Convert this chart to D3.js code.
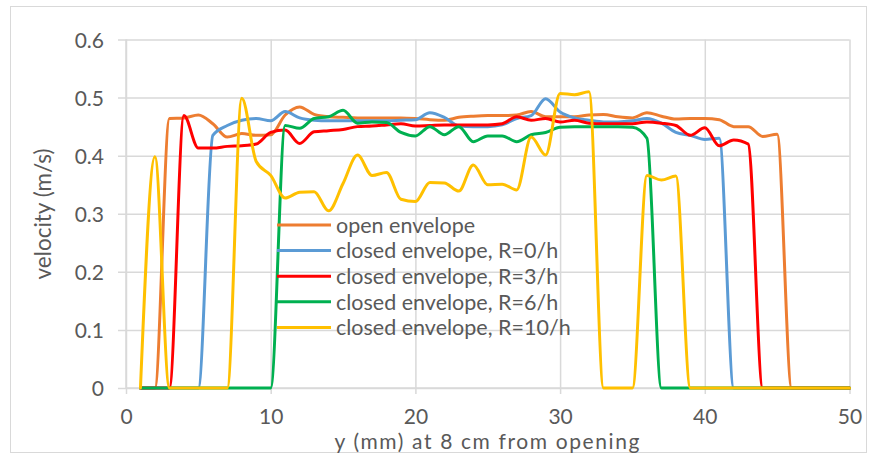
<!DOCTYPE html>
<html>
<head>
<meta charset="utf-8">
<script src="https://cdn.jsdelivr.net/npm/d3@7"></script>
<style>
  html, body { margin: 0; padding: 0; background: #fff; }
  svg text { font-family: Lato, "Open Sans", sans-serif; fill: #595959; }
</style>
</head>
<body>
<svg id="chart" width="872" height="460"></svg>
<script>
// Position across the opening (mm)
const positions = [1,2,3,4,5,6,7,8,9,10,11,12,13,14,15,16,17,18,19,20,21,22,23,24,25,
                   26,27,28,29,30,31,32,33,34,35,36,37,38,39,40,41,42,43,44,45,46,47,48,49,50];

// Velocity (m/s) for each configuration
const openEnvelope = [0,0,0.464,0.465,0.470,0.455,0.432,0.438,0.435,0.436,0.470,0.484,0.471,0.467,0.466,
  0.465,0.465,0.465,0.465,0.464,0.462,0.461,0.466,0.468,0.469,0.469,0.470,0.476,0.467,0.467,
  0.467,0.470,0.471,0.467,0.465,0.474,0.468,0.463,0.464,0.464,0.462,0.450,0.450,0.433,0.437,
  0,0,0,0,0];
const closedR0 = [0,0,0,0,0,0.435,0.452,0.461,0.464,0.460,0.476,0.465,0.461,0.460,0.460,
  0.460,0.460,0.460,0.461,0.462,0.474,0.466,0.451,0.450,0.450,0.453,0.464,0.469,0.498,0.475,
  0.465,0.461,0.458,0.458,0.460,0.464,0.456,0.440,0.435,0.428,0.430,0,0,0,0,
  0,0,0,0,0];
const closedR3 = [0,0,0,0.469,0.413,0.413,0.416,0.417,0.420,0.440,0.444,0.421,0.441,0.443,0.445,
  0.450,0.451,0.453,0.455,0.451,0.452,0.453,0.453,0.453,0.453,0.455,0.467,0.461,0.464,0.458,
  0.461,0.456,0.455,0.455,0.455,0.458,0.456,0.452,0.435,0.448,0.417,0.427,0.420,0,0,
  0,0,0,0,0];
const closedR6 = [0,0,0,0,0,0,0,0,0,0,0.452,0.447,0.464,0.467,0.478,
  0.456,0.458,0.457,0.440,0.434,0.450,0.436,0.450,0.424,0.434,0.434,0.424,0.436,0.440,0.449,
  0.450,0.450,0.450,0.450,0.449,0.430,0,0,0,0,0,0,0,0,0,
  0,0,0,0,0];
const closedR10 = [0,0.398,0,0,0,0,0,0.499,0.390,0.366,0.327,0.337,0.338,0.305,0.352,
  0.401,0.366,0.371,0.325,0.321,0.354,0.353,0.339,0.384,0.350,0.351,0.341,0.432,0.401,0.507,
  0.505,0.510,0,0,0,0.366,0.358,0.365,0,0,0,0,0,0,0,
  0,0,0,0,0];

const seriesNames = ["open envelope", "closed envelope, R=0/h", "closed envelope, R=3/h",
                     "closed envelope, R=6/h", "closed envelope, R=10/h"];
const seriesColors = ["#ED7D31", "#5B9BD5", "#FF0000", "#00B050", "#FFC000"];
const seriesValues = [openEnvelope, closedR0, closedR3, closedR6, closedR10];

const xTicks = [0, 10, 20, 30, 40, 50];
const yTicks = [0, 0.1, 0.2, 0.3, 0.4, 0.5, 0.6];
const xTitle = "y (mm) at 8 cm from opening";
const yTitle = "velocity (m/s)";

const svg = d3.select("#chart");
const grid = "#d9d9d9";

// outer chart frame
svg.append("rect")
  .attr("x", 10.5).attr("y", 6.5).attr("width", 856).attr("height", 446)
  .attr("fill", "#fff").attr("stroke", grid).attr("stroke-width", 1);

const plot = { left: 126, right: 849.5, top: 39.5, bottom: 388 };
const x = d3.scaleLinear().domain([0, 50]).range([plot.left, plot.right]);
const y = d3.scaleLinear().domain([0, 0.6]).range([plot.bottom, plot.top]);

// horizontal gridlines with short outside ticks
const yAxis = d3.axisLeft(y).tickValues(yTicks)
  .tickSize(-(plot.right - plot.left)).tickPadding(0)
  .tickFormat(d => d === 0 ? "0" : d3.format(".1f")(d));
const gy = svg.append("g").attr("transform", `translate(${plot.left},0)`).call(yAxis);
gy.select(".domain").remove();
gy.selectAll(".tick line").attr("stroke", grid).attr("stroke-width", 1.5).attr("x1", -8);
gy.selectAll(".tick text").attr("x", -22).attr("dy", "0.36em")
  .style("font-size", "21px").attr("fill", "#595959");

// vertical gridlines with short outside ticks
const xAxis = d3.axisBottom(x).tickValues(xTicks)
  .tickSize(-(plot.bottom - plot.top)).tickPadding(0);
const gx = svg.append("g").attr("transform", `translate(0,${plot.bottom})`).call(xAxis);
gx.select(".domain").remove();
gx.selectAll(".tick line").attr("stroke", grid).attr("stroke-width", 1.5).attr("y1", 6);
gx.selectAll(".tick text").attr("y", 36).attr("dy", 0)
  .style("font-size", "21px").attr("fill", "#595959");

// axis lines
svg.append("line").attr("x1", plot.left).attr("x2", plot.right)
  .attr("y1", plot.bottom).attr("y2", plot.bottom)
  .attr("stroke", grid).attr("stroke-width", 1.5);
svg.append("line").attr("x1", plot.left).attr("x2", plot.left)
  .attr("y1", plot.top).attr("y2", plot.bottom)
  .attr("stroke", grid).attr("stroke-width", 1.5);

// smoothed velocity profiles
const line = d3.line()
  .x((d, i) => x(positions[i]))
  .y(d => y(d))
  .curve(d3.curveMonotoneX);

svg.append("g").selectAll("path")
  .data(seriesValues)
  .join("path")
  .attr("d", line)
  .attr("fill", "none")
  .attr("stroke", (d, i) => seriesColors[i])
  .attr("stroke-width", 3)
  .attr("stroke-linejoin", "round")
  .attr("stroke-linecap", "round");

// legend
const legend = svg.append("g").attr("transform", "translate(277,225)");
const items = legend.selectAll("g").data(seriesNames).join("g")
  .attr("transform", (d, i) => `translate(0,${i * 25.6})`);
items.append("line").attr("x1", 0).attr("x2", 54).attr("y1", 0).attr("y2", 0)
  .attr("stroke", (d, i) => seriesColors[i]).attr("stroke-width", 3);
items.append("text").attr("x", 59).attr("dy", "0.36em")
  .style("font-size", "21.5px").text(d => d);

// axis titles
svg.append("text").attr("x", 487).attr("y", 448.5).attr("text-anchor", "middle")
  .attr("textLength", 305).attr("lengthAdjust", "spacing")
  .style("font-size", "21px").text(xTitle);
svg.append("text").attr("transform", `translate(51,214) rotate(-90)`)
  .attr("text-anchor", "middle").style("font-size", "22.5px").text(yTitle);
</script>
</body>
</html>
